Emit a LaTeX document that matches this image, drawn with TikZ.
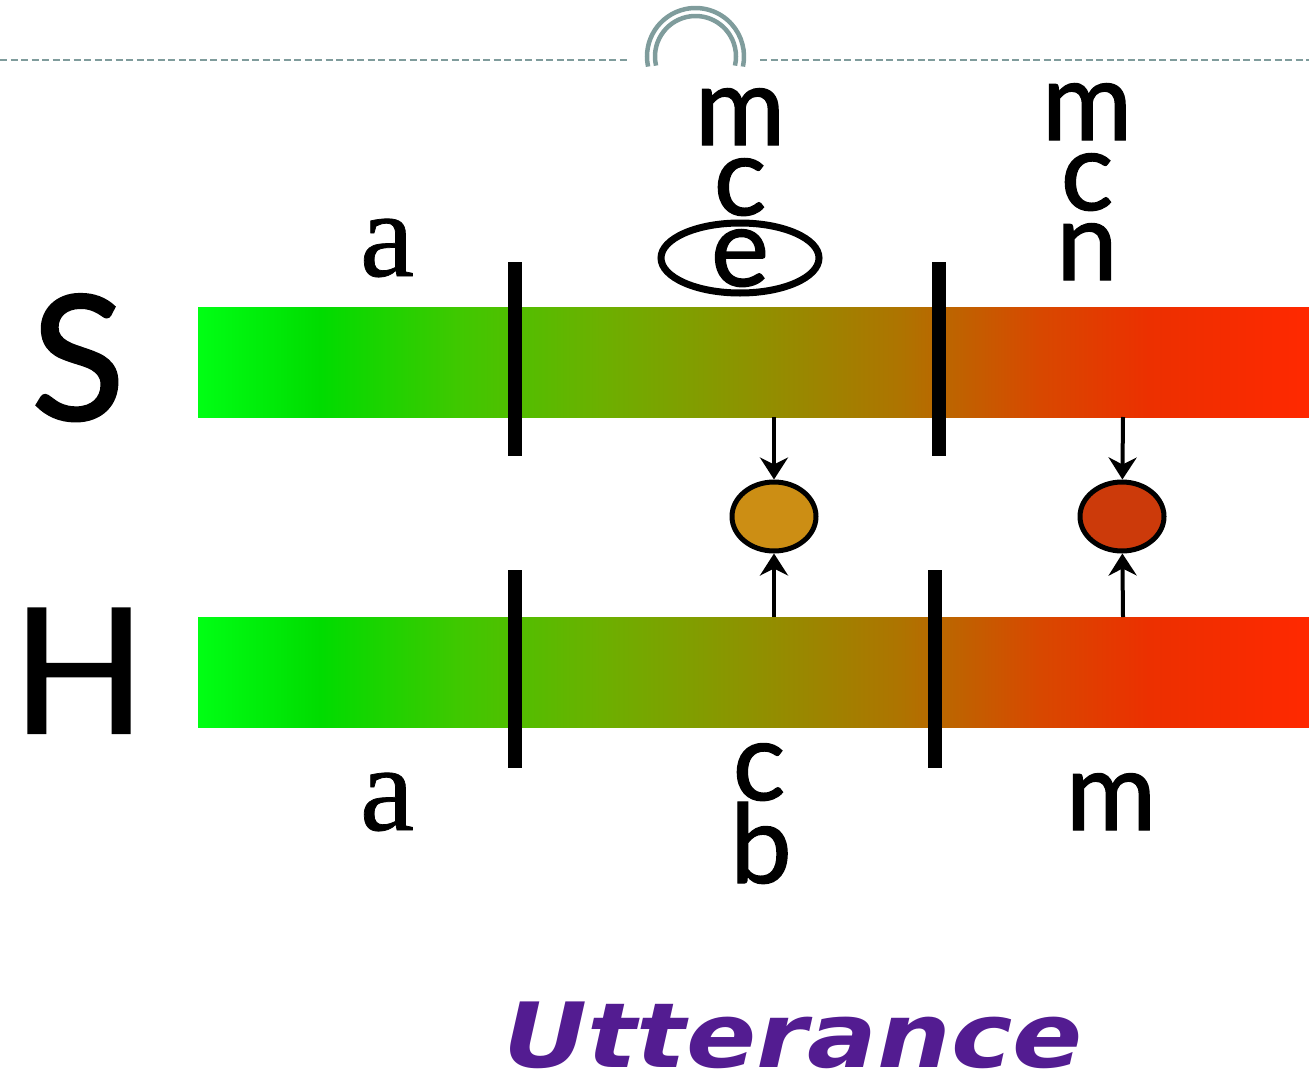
\documentclass[tikz,border=0pt]{standalone}
\usepackage{fontspec}
\usetikzlibrary{arrows.meta,shapes.geometric}
\newfontfamily\labfont{Lato}[FakeBold=1.2]
\newfontfamily\afont{Liberation Serif}[FakeBold=0.6]
\newfontfamily\uttfont{DejaVu Sans}
\definecolor{g0}{HTML}{00FF14}
\definecolor{g1}{HTML}{00DC00}
\definecolor{g2}{HTML}{40C800}
\definecolor{g3}{HTML}{6CB000}
\definecolor{g4}{HTML}{8C9400}
\definecolor{g5}{HTML}{AE7400}
\definecolor{g6}{HTML}{D84800}
\definecolor{g7}{HTML}{EC3000}
\definecolor{g8}{HTML}{FF2800}
\definecolor{gridc}{HTML}{7F9C9C}
\definecolor{uttc}{HTML}{531C91}
\definecolor{dotA}{HTML}{CC8E14}
\definecolor{dotB}{HTML}{CC3A0A}
\pgfdeclarehorizontalshading{barshade}{100bp}{color(0bp)=(g0); color(25bp)=(g0); color(30.5bp)=(g1); color(36.8bp)=(g2); color(43.1bp)=(g3); color(49.4bp)=(g4); color(56.6bp)=(g5); color(62.9bp)=(g6); color(67.8bp)=(g7); color(75bp)=(g8); color(100bp)=(g8)}
\begin{document}
\begin{tikzpicture}[x=1pt,y=-1pt,
  lab/.style={font=\fontsize{110}{110}\selectfont\labfont, anchor=base, inner sep=0pt},
  alab/.style={font=\fontsize{122}{122}\selectfont\afont, anchor=base, inner sep=0pt},
  biglab/.style={font=\fontsize{174}{174}\selectfont\labfont, anchor=base, inner sep=0pt},
  tick/.style={line width=14pt},
  dot/.style={ellipse, draw, line width=5pt, minimum width=84pt, minimum height=69pt, inner sep=0pt},
  arr/.style={-{Stealth[length=22pt,width=28pt,inset=7pt]}, line width=4pt},
  grid/.style={gridc, line width=2.5pt, dash pattern=on 7pt off 3.5pt},
  arch/.style={gridc, line width=4.5pt}]
\useasboundingbox (0,0) rectangle (1309,1081);
% header
\draw[grid] (0,60) -- (630,60);
\draw[grid] (760,60) -- (1309,60);
\draw[arch] (695.5,56.5) ++(168:48.5) arc[start angle=168, end angle=372, radius=48.5];
\draw[arch] (695.5,56.5) ++(167:40.5) arc[start angle=167, end angle=373, radius=40.5];
% bars
\shade[shading=barshade] (198,307) rectangle (1309,417);
\shade[shading=barshade] (198,617) rectangle (1309,727);
% ticks
\draw[tick] (515,262) -- (515,456);
\draw[tick] (938.5,262) -- (938.5,456);
\draw[tick] (515,570) -- (515,768);
\draw[tick] (935,570) -- (935,768);
% row labels
\node[biglab] (S) at (78,420) {S};
\node[biglab] (H) at (79,733) {H};
% top labels
\node[alab] (ta) at (387,276) {a};
\node[lab] (tm1) at (740,145) {m};
\node[lab] (tc1) at (740,215) {c};
\node[lab] (te1) at (740,286) {e};
\node[ellipse, draw, line width=7pt, minimum width=158pt, minimum height=70pt, inner sep=0pt] (ering) at (740,258) {};
\node[lab] (tm2) at (1087,140) {m};
\node[lab] (tc2) at (1087,210) {c};
\node[lab] (tn2) at (1087,280) {n};
% bottom labels
\node[alab] (ba) at (387,830) {a};
\node[lab] (bc) at (759,800) {c};
\node[lab] (bb) at (761,883) {b};
\node[lab] (bm) at (1111,830) {m};
% dots and arrows
\node[dot, fill=dotA] (o1) at (774,516.5) {};
\node[dot, fill=dotB] (o2) at (1122,516.5) {};
\coordinate (s1) at (774,417);
\coordinate (h1) at (774,617);
\coordinate (s2) at (1123,417);
\coordinate (h2) at (1123,617);
\draw[arr] (s1) -- (o1);
\draw[arr] (h1) -- (o1);
\draw[arr] (s2) -- (o2);
\draw[arr] (h2) -- (o2);
% title
\node[font=\fontsize{90}{90}\selectfont\uttfont\bfseries\itshape, text=uttc, anchor=base, inner sep=0pt, xscale=1.15] (utt) at (793,1067) {Utterance};
\end{tikzpicture}
\end{document}
